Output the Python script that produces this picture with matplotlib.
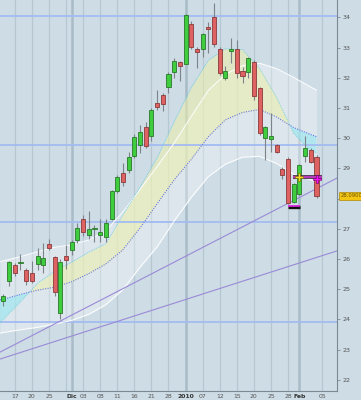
import matplotlib
matplotlib.use("Agg")
import matplotlib.pyplot as plt
import numpy as np

# ---------------- data ----------------
opens  = [24.61,25.27,25.80,25.87,25.64,25.55,25.82,25.80,26.50,26.08,24.20,26.11,26.30,26.63,27.32,26.80,26.98,26.81,26.73,27.31,
          28.25,28.84,28.96,29.42,29.76,30.38,30.07,31.15,31.43,31.68,32.20,32.53,32.44,33.77,32.95,32.94,33.67,34.01,32.94,31.98,
          32.89,32.94,32.23,32.18,32.53,31.65,29.99,29.97,29.77,28.98,29.30,27.90,28.15,29.42,29.61,29.37]
highs  = [24.84,25.94,25.87,26.18,25.69,25.94,26.36,26.53,26.68,26.10,26.00,26.46,26.63,27.20,27.46,27.60,27.13,27.32,27.34,28.28,
          28.78,29.18,29.54,30.14,30.42,30.52,31.00,31.59,31.48,32.20,32.66,32.55,34.11,33.89,33.03,33.49,33.85,34.46,33.03,32.39,
          33.31,33.25,32.36,32.70,32.59,31.70,30.40,30.82,29.81,29.06,29.37,28.51,29.15,30.07,29.66,29.44]
lows   = [24.45,25.11,25.44,25.64,25.14,25.21,25.64,25.54,26.30,24.79,24.00,25.67,26.13,26.54,26.76,26.65,26.56,26.55,26.56,27.28,
          28.18,28.41,28.86,29.33,29.51,29.68,29.92,30.93,30.91,31.50,32.00,31.90,32.44,32.94,32.31,32.70,32.81,33.03,32.09,31.93,
          32.50,31.98,31.82,31.98,31.26,30.11,29.28,29.55,29.52,28.64,27.82,27.85,28.12,29.22,29.19,28.01]
closes = [24.78,25.90,25.53,25.90,25.28,25.28,26.10,26.04,26.37,24.92,25.91,25.97,26.57,27.02,26.90,26.98,27.03,26.90,27.18,28.25,
          28.72,28.55,29.37,30.03,30.19,29.73,30.93,31.02,31.12,32.12,32.55,32.40,34.09,33.03,32.86,33.44,33.61,33.11,32.17,32.22,
          32.94,32.15,32.06,32.64,31.41,30.16,30.36,30.08,29.55,28.78,27.86,28.47,29.11,29.66,29.22,28.09]

# indicator lines (x = candle index)
ind_x    = [-0.6, 0, 3, 6, 9, 12, 15, 18, 21, 24, 27, 30, 33, 36, 39, 42, 45, 48, 51, 54, 55]
bb_upper = [25.91,25.94,26.08,26.24,26.39,26.47,26.63,26.93,27.56,28.30,29.06,29.84,30.72,31.58,32.11,32.40,32.48,32.30,32.01,31.69,31.59]
bb_mid   = [24.65,24.67,24.83,24.97,25.07,25.25,25.52,25.84,26.31,27.03,27.83,28.62,29.30,30.05,30.61,30.85,30.95,30.70,30.35,30.12,30.05]
bb_lower = [23.55,23.57,23.66,23.74,23.85,23.97,24.17,24.49,24.99,25.73,26.40,27.26,28.04,28.73,29.14,29.37,29.40,29.16,28.80,28.62,28.55]
fast_ma  = [23.89,24.01,24.59,25.20,25.60,25.90,26.23,26.51,27.47,28.38,29.35,30.55,31.68,32.58,32.96,32.93,32.30,31.34,30.16,29.58,29.51]

trend_x = [-0.6, 58.6]
trend_a = [22.92, 28.68]
trend_b = [22.69, 26.27]

hlines = [34.05, 29.78, 27.24, 23.91]

tick_pos    = [2, 5, 8, 12, 14, 17, 20, 23, 26, 29, 32, 35, 38, 41, 44, 47, 50, 52, 56]
tick_labels = ["17", "20", "25", "Dic", "03", "08", "11", "16", "21", "28", "2010", "07", "12", "15", "20", "25", "28", "Feb", "05"]
bold_labels = ["Dic", "2010", "Feb"]
thin_grid   = [2, 5, 8, 11, 14, 17, 20, 23, 26, 29, 35, 38, 41, 44, 47, 50, 56]
thick_grid  = [12, 32, 52]

yticks = [22, 23, 24, 25, 26, 27, 28, 29, 30, 31, 32, 33, 34]
ytick_labels = ["22", "23", "24", "25", "26", "27", "", "29", "30", "31", "32", "33", "34"]  # 28 hidden under price box
last_price = 28.09

mark_line_x = [50.9, 56.05]
mark_line_y = 28.72
mark_low_x = [50.0, 52.05]
mark_low_y = 27.73
mark_yellow = (52, 28.72)
mark_pink = (55, 28.65)

# ---------------- figure ----------------
BG = "#cddce5"
fig = plt.figure(figsize=(3.61, 4.0), dpi=100, facecolor=BG)
ax = fig.add_axes([0, 9/400, 337/361, 391/400], facecolor=BG)
ax.set_xlim(-0.6, 58.6)
ax.set_ylim(21.634, 34.572)

for g in thin_grid:
    ax.axvline(g, color="#b6c7d1", lw=0.9, zorder=0)
for g in thick_grid:
    ax.axvline(g, color="#a9bbc7", lw=1.8, zorder=0)

x = np.array(ind_x, dtype=float)
up = np.array(bb_upper); mid = np.array(bb_mid); lo = np.array(bb_lower); fm = np.array(fast_ma)

ax.fill_between(x, lo, up, color="#ffffff", alpha=0.30, lw=0, zorder=1)
ax.fill_between(x, fm, mid, where=fm >= mid, interpolate=True, color="#eef0a8", alpha=0.55, lw=0, zorder=1.1)
ax.fill_between(x, fm, mid, where=fm < mid, interpolate=True, color="#8fe6f0", alpha=0.55, lw=0, zorder=1.1)

for h in hlines:
    ax.axhline(h, color="#a3bbf2", lw=1.3, zorder=1.5)

ax.plot(x, up, color="white", lw=0.8, alpha=0.9, zorder=2)
ax.plot(x, lo, color="white", lw=0.8, alpha=0.9, zorder=2)
ax.plot(x, fm, color="#7fd3da", lw=0.7, ls=(0, (1, 1)), zorder=2)
ax.plot(x, mid, color="#6a78e8", lw=0.8, ls=(0, (1, 1.2)), zorder=2)

ax.plot(trend_x, trend_a, color="#9a8ad6", lw=0.8, zorder=2.2)
ax.plot(trend_x, trend_b, color="#9a8ad6", lw=0.8, zorder=2.2)

# candles
idx = np.arange(len(opens))
o = np.array(opens); c = np.array(closes); h = np.array(highs); l = np.array(lows)
up_mask = c >= o
ax.vlines(idx, l, h, color="#7d8489", lw=0.8, zorder=3)
bottoms = np.minimum(o, c)
heights = np.maximum(np.abs(c - o), 0.035)
ax.bar(idx[up_mask], heights[up_mask], bottom=bottoms[up_mask], width=0.72,
       color="#3fcc3f", edgecolor="#2a7a2a", lw=0.6, zorder=4)
ax.bar(idx[~up_mask], heights[~up_mask], bottom=bottoms[~up_mask], width=0.72,
       color="#de6262", edgecolor="#8a3a3a", lw=0.6, zorder=4)

# annotation marks
ax.plot(mark_line_x, [mark_line_y] * 2, color="#3a2040", lw=2.6, solid_capstyle="butt", zorder=5)
ax.plot(mark_line_x, [mark_line_y] * 2, color="#d040d0", lw=1.2, solid_capstyle="butt", zorder=5.1)
ax.plot(mark_low_x, [mark_low_y] * 2, color="#111111", lw=2.4, solid_capstyle="butt", zorder=5)
ax.plot(mark_low_x, [mark_low_y + 0.02] * 2, color="#e020e0", lw=1.2, solid_capstyle="butt", zorder=5.1)
ax.plot(*mark_yellow, marker="P", ms=5.5, color="#f0e020", mec="#806000", mew=0.4, zorder=6)
ax.plot(*mark_pink, marker="P", ms=5.5, color="#ff10ff", mec="#600060", mew=0.4, zorder=6)

# axes styling
for s in ["top", "left"]:
    ax.spines[s].set_visible(False)
ax.spines["right"].set_color("#7a8a94")
ax.spines["bottom"].set_color("#7a8a94")
ax.spines["right"].set_linewidth(0.8)
ax.spines["bottom"].set_linewidth(0.8)

ax.yaxis.tick_right()
ax.set_yticks(yticks)
ax.set_yticklabels(ytick_labels, fontsize=4.6, color="#555555")
ax.tick_params(axis="y", length=2.5, width=0.6, color="#7a8a94", pad=1.5)

ax.set_xticks(tick_pos)
ax.set_xticklabels(tick_labels, fontsize=4.4, color="#555555")
for t in ax.get_xticklabels():
    if t.get_text() in bold_labels:
        t.set_fontweight("bold")
        t.set_color("#333333")
ax.tick_params(axis="x", length=0, pad=2)

ax.annotate(f"{last_price:.4f}", xy=(1, last_price), xycoords=("axes fraction", "data"),
            xytext=(2.5, 0), textcoords="offset points", ha="left", va="center",
            fontsize=3.8, color="#6a5000",
            bbox=dict(boxstyle="square,pad=0.25", fc="#f2c414", ec="#b08a00", lw=0.5),
            annotation_clip=False, zorder=10)

fig.savefig("out.png", dpi=100, facecolor=BG)
